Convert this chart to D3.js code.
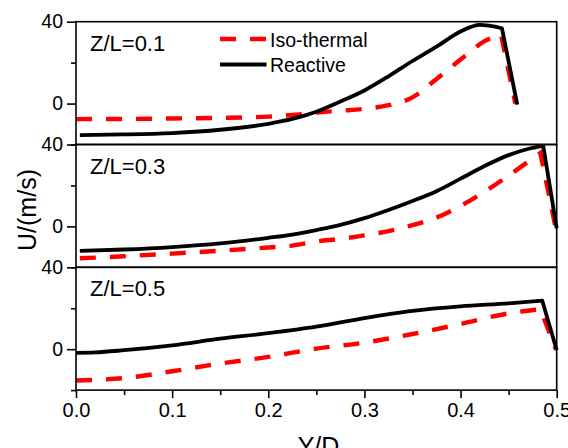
<!DOCTYPE html>
<html>
<head>
<meta charset="utf-8">
<script src="https://cdn.jsdelivr.net/npm/d3@7"></script>
<style>
  html, body { margin: 0; padding: 0; background: #fff; }
  svg { display: block; font-family: "Liberation Sans", Arial, sans-serif; }
</style>
</head>
<body>
<svg id="chart" width="568" height="448"></svg>
<script>
// Velocity profiles U across Y/D at three axial stations Z/L
const panelLabels = ["Z/L=0.1", "Z/L=0.3", "Z/L=0.5"];
const seriesNames = ["Iso-thermal", "Reactive"];

const xMajorTicks = [0.0, 0.1, 0.2, 0.3, 0.4, 0.5];
const xMinorTicks = [0.05, 0.15, 0.25, 0.35, 0.45];
const yMajorTicks = [0, 40];
const yMinorTicks = [-20, 20];

// Z/L = 0.1
const isoY1 = [0.0, 0.05, 0.1, 0.15, 0.2, 0.225, 0.25, 0.275, 0.3, 0.325, 0.35, 0.375, 0.4, 0.425, 0.442, 0.457];
const isoU1 = [-7.6, -7.5, -7.3, -7.0, -6.4, -5.6, -4.4, -3.5, -2.6, -0.8, 3.0, 12.0, 21.5, 30.5, 33.8, 0.0];
const reaY1 = [0.004, 0.05, 0.1, 0.15, 0.2, 0.225, 0.25, 0.275, 0.3, 0.325, 0.35, 0.375, 0.4, 0.42, 0.443, 0.459];
const reaU1 = [-15.4, -15.1, -14.4, -12.8, -9.9, -7.5, -4.0, 1.0, 6.4, 13.3, 20.8, 27.8, 35.2, 38.4, 36.8, -0.5];

// Z/L = 0.3
const isoY3 = [0.004, 0.05, 0.1, 0.15, 0.2, 0.225, 0.25, 0.275, 0.3, 0.325, 0.35, 0.375, 0.4, 0.425, 0.45, 0.47, 0.483, 0.499];
const isoU3 = [-15.6, -14.6, -13.3, -11.9, -10.3, -9.4, -7.4, -6.1, -4.4, -2.3, 0.6, 4.3, 10.0, 17.0, 24.8, 31.5, 35.8, -1.0];
const reaY3 = [0.004, 0.05, 0.1, 0.15, 0.2, 0.225, 0.25, 0.275, 0.3, 0.325, 0.35, 0.375, 0.4, 0.425, 0.45, 0.47, 0.486, 0.5];
const reaU3 = [-12.0, -11.3, -10.1, -8.3, -5.6, -4.0, -1.8, 0.7, 4.0, 8.0, 12.4, 17.2, 23.3, 29.5, 34.8, 37.8, 39.3, -1.0];

// Z/L = 0.5
const isoY5 = [0.0, 0.02, 0.05, 0.1, 0.15, 0.2, 0.25, 0.3, 0.35, 0.4, 0.45, 0.483, 0.499];
const isoU5 = [-15.3, -15.0, -14.1, -10.8, -7.0, -3.8, 0.3, 3.2, 7.4, 12.3, 17.5, 19.5, 0.0];
const reaY5 = [0.0, 0.02, 0.05, 0.1, 0.15, 0.2, 0.25, 0.3, 0.35, 0.4, 0.45, 0.485, 0.5];
const reaU5 = [-1.8, -1.6, -0.5, 1.9, 5.1, 7.8, 11.0, 15.2, 18.7, 20.9, 22.4, 23.7, -0.5];

const panels = [
  { label: panelLabels[0], iso: [isoY1, isoU1], rea: [reaY1, reaU1] },
  { label: panelLabels[1], iso: [isoY3, isoU3], rea: [reaY3, reaU3] },
  { label: panelLabels[2], iso: [isoY5, isoU5], rea: [reaY5, reaU5] }
];

const svg = d3.select("#chart");
const plotLeft = 76, plotRight = 556.7, plotTop = 21.7, panelH = 122.8;
const red = "#ff0000";

const x = d3.scaleLinear().domain([0, 0.5]).range([plotLeft, plotRight]);
const y = d3.scaleLinear().domain([-20, 40]).range([panelH, 0]);

const smooth = d3.line()
  .x(d => x(d[0]))
  .y(d => y(d[1]))
  .curve(d3.curveMonotoneX);

// smooth profile up to the wall peak, then a straight drop to the wall value
const profilePath = pts => {
  const last = pts[pts.length - 1];
  return smooth(pts.slice(0, -1)) + "L" + x(last[0]) + "," + y(last[1]);
};

const zip = (a, b) => a.map((v, i) => [v, b[i]]);

panels.forEach((p, i) => {
  const g = svg.append("g").attr("transform", `translate(0,${plotTop + i * panelH})`);

  // curves
  g.append("path")
    .datum(zip(p.iso[0], p.iso[1]))
    .attr("d", profilePath)
    .attr("fill", "none")
    .attr("stroke", red)
    .attr("stroke-width", 4.4)
    .attr("stroke-dasharray", "16,14");
  g.append("path")
    .datum(zip(p.rea[0], p.rea[1]))
    .attr("d", profilePath)
    .attr("fill", "none")
    .attr("stroke", "#000")
    .attr("stroke-width", 3.8)
    .attr("stroke-linejoin", "round");

  // frame
  g.append("rect")
    .attr("x", plotLeft).attr("y", 0)
    .attr("width", plotRight - plotLeft).attr("height", panelH)
    .attr("fill", "none").attr("stroke", "#000").attr("stroke-width", 1.6);

  // y axis
  const yMaj = g.append("g").attr("transform", `translate(${plotLeft},0)`)
    .call(d3.axisLeft(y).tickValues(yMajorTicks).tickSize(9).tickPadding(4).tickFormat(d3.format("d")));
  const yMin = g.append("g").attr("transform", `translate(${plotLeft},0)`)
    .call(d3.axisLeft(y).tickValues(yMinorTicks).tickSize(5).tickFormat(""));
  [yMaj, yMin].forEach(a => {
    a.select(".domain").remove();
    a.selectAll(".tick line").attr("stroke", "#000").attr("stroke-width", 1.6);
  });
  yMaj.selectAll(".tick text")
    .attr("fill", "#000")
    .style("font-size", "19.5px")
    .style("font-family", "'Liberation Sans', Arial, sans-serif");

  // panel label
  g.append("text")
    .attr("x", 90).attr("y", 29)
    .style("font-size", "22px")
    .attr("fill", "#000")
    .text(p.label);

  // x axis on the bottom panel only
  if (i === panels.length - 1) {
    const xMaj = g.append("g").attr("transform", `translate(0,${panelH})`)
      .call(d3.axisBottom(x).tickValues(xMajorTicks).tickSize(8).tickPadding(5).tickFormat(d3.format(".1f")));
    const xMin = g.append("g").attr("transform", `translate(0,${panelH})`)
      .call(d3.axisBottom(x).tickValues(xMinorTicks).tickSize(5).tickFormat(""));
    [xMaj, xMin].forEach(a => {
      a.select(".domain").remove();
      a.selectAll(".tick line").attr("stroke", "#000").attr("stroke-width", 1.6);
    });
    xMaj.selectAll(".tick text")
      .attr("fill", "#000")
      .style("font-size", "20px")
      .style("font-family", "'Liberation Sans', Arial, sans-serif");
  }
});

// legend
const legend = svg.append("g");
const legendRows = [
  { name: seriesNames[0], color: red, dash: "16,14", width: 4.4, y: 39 },
  { name: seriesNames[1], color: "#000", dash: null, width: 3.8, y: 64.5 }
];
legendRows.forEach(r => {
  legend.append("line")
    .attr("x1", 220).attr("x2", 266.5)
    .attr("y1", r.y).attr("y2", r.y)
    .attr("stroke", r.color)
    .attr("stroke-width", r.width)
    .attr("stroke-dasharray", r.dash);
  legend.append("text")
    .attr("x", 270).attr("y", r.y + 7.5)
    .style("font-size", "19.5px")
    .attr("fill", "#000")
    .text(r.name);
});

// axis titles
svg.append("text")
  .attr("transform", "translate(36,210) rotate(-90)")
  .attr("text-anchor", "middle")
  .style("font-size", "25px")
  .attr("fill", "#000")
  .text("U/(m/s)");

svg.append("text")
  .attr("x", 318.5).attr("y", 455)
  .attr("text-anchor", "middle")
  .style("font-size", "25px")
  .attr("fill", "#000")
  .text("Y/D");
</script>
</body>
</html>
